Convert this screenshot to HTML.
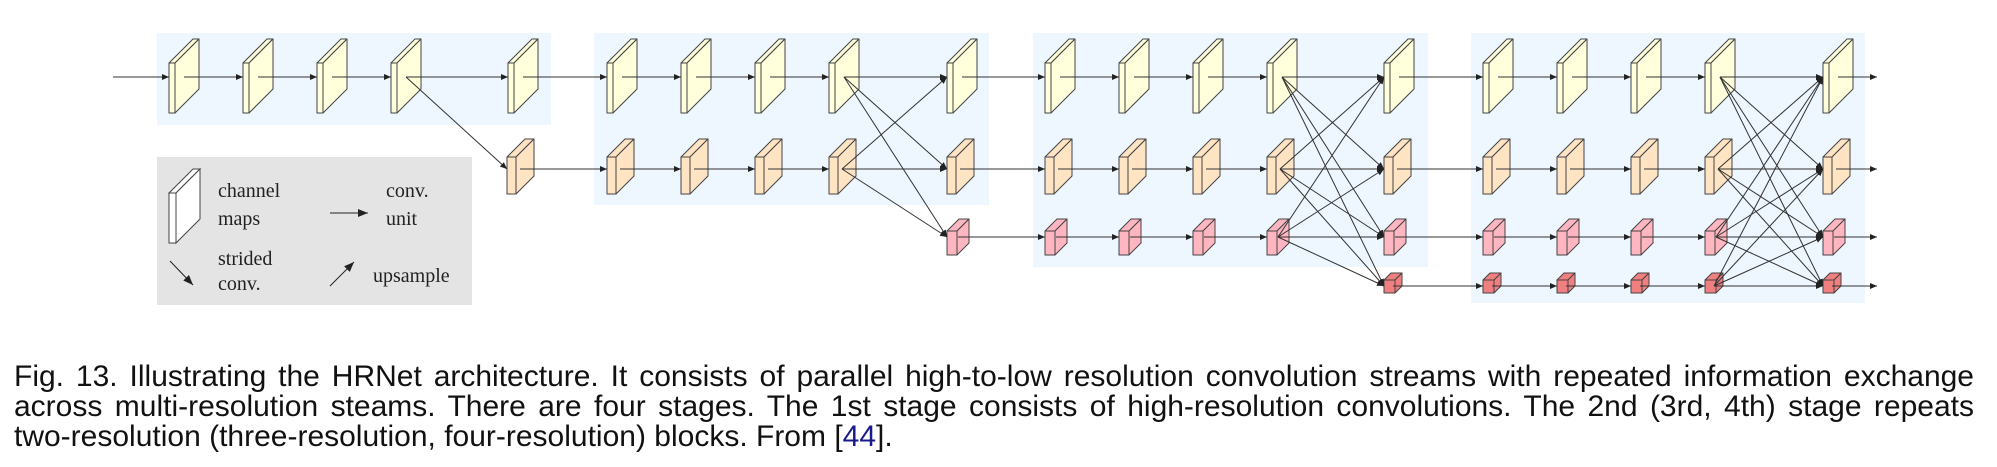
<!DOCTYPE html>
<html><head><meta charset="utf-8"><style>
html,body{margin:0;padding:0;background:#fff;}
body{width:1997px;height:467px;position:relative;overflow:hidden;}
svg{position:absolute;left:0;top:0;}
.cap{position:absolute;left:14px;width:1960px;font-family:"Liberation Sans",sans-serif;font-size:30px;line-height:29px;color:#111;white-space:nowrap;}
.j{text-align:justify;text-align-last:justify;white-space:normal;}
</style></head><body>
<svg width="1997" height="467" viewBox="0 0 1997 467" xmlns="http://www.w3.org/2000/svg">
<defs>
<marker id="a" markerWidth="7" markerHeight="6" refX="7" refY="3" orient="auto" markerUnits="userSpaceOnUse"><path d="M0,0 L7,3 L0,6 z" fill="#222"/></marker>
<marker id="b" markerWidth="10" markerHeight="8" refX="10" refY="4" orient="auto" markerUnits="userSpaceOnUse"><path d="M0,0 L10,4 L0,8 z" fill="#222"/></marker>
<g id="m1" stroke="#444" stroke-width="1" stroke-linejoin="round" fill="#ffffdc"><rect x="0" y="0" width="6" height="50"/><polygon points="0,0 24,-24 30,-24 6,0"/><polygon points="6,0 30,-24 30,26 6,50"/></g>
<g id="m2" stroke="#444" stroke-width="1" stroke-linejoin="round" fill="#ffe4c4"><rect x="0" y="0" width="9" height="37"/><polygon points="0,0 18,-18 27,-18 9,0"/><polygon points="9,0 27,-18 27,19 9,37"/></g>
<g id="m3" stroke="#444" stroke-width="1" stroke-linejoin="round" fill="#ffb6c1"><rect x="0" y="0" width="10" height="24"/><polygon points="0,0 12,-12 22,-12 10,0"/><polygon points="10,0 22,-12 22,12 10,24"/></g>
<g id="m4" stroke="#444" stroke-width="1" stroke-linejoin="round" fill="#f08080"><rect x="0" y="0" width="11" height="13"/><polygon points="0,0 7,-7 18,-7 11,0"/><polygon points="11,0 18,-7 18,6 11,13"/></g>
</defs>
<g fill="#eef6ff">
<rect x="157" y="33" width="394" height="92"/>
<rect x="594" y="33" width="395" height="172"/>
<rect x="1033" y="33" width="395" height="234"/>
<rect x="1471" y="33" width="394" height="270"/>
</g>
<rect x="157" y="157" width="315" height="148" fill="#e4e4e4"/>
<g stroke="#444" fill="#fff"><rect x="169" y="193" width="7" height="50"/><polygon points="169,193 193,169 200,169 176,193"/><polygon points="176,193 200,169 200,219 176,243"/></g>
<g stroke="#222" stroke-width="1" fill="none">
<line x1="330" y1="213" x2="368" y2="213" marker-end="url(#b)"/>
<line x1="170" y1="261" x2="193" y2="285" marker-end="url(#b)"/>
<line x1="330" y1="286" x2="354" y2="262" marker-end="url(#b)"/>
</g>
<g font-family="Liberation Serif, serif" font-size="20" fill="#222">
<text x="218" y="197">channel</text><text x="218" y="225">maps</text>
<text x="386" y="197">conv.</text><text x="386" y="225">unit</text>
<text x="218" y="265">strided</text><text x="218" y="290">conv.</text>
<text x="373" y="282">upsample</text>
</g>
<g>
<use href="#m1" x="169" y="63"/><use href="#m1" x="243" y="63"/><use href="#m1" x="317" y="63"/><use href="#m1" x="391" y="63"/><use href="#m1" x="508" y="63"/>
<use href="#m2" x="507" y="157"/>
<use href="#m1" x="607" y="63"/><use href="#m1" x="681" y="63"/><use href="#m1" x="755" y="63"/><use href="#m1" x="829" y="63"/><use href="#m1" x="947" y="63"/>
<use href="#m2" x="607" y="157"/><use href="#m2" x="681" y="157"/><use href="#m2" x="755" y="157"/><use href="#m2" x="829" y="157"/><use href="#m2" x="947" y="157"/>
<use href="#m3" x="947" y="231"/>
<use href="#m1" x="1045" y="63"/><use href="#m1" x="1119" y="63"/><use href="#m1" x="1193" y="63"/><use href="#m1" x="1267" y="63"/><use href="#m1" x="1384" y="63"/>
<use href="#m2" x="1045" y="157"/><use href="#m2" x="1119" y="157"/><use href="#m2" x="1193" y="157"/><use href="#m2" x="1267" y="157"/><use href="#m2" x="1384" y="157"/>
<use href="#m3" x="1045" y="231"/><use href="#m3" x="1119" y="231"/><use href="#m3" x="1193" y="231"/><use href="#m3" x="1267" y="231"/><use href="#m3" x="1384" y="231"/>
<use href="#m4" x="1384" y="280"/>
<use href="#m1" x="1483" y="63"/><use href="#m1" x="1557" y="63"/><use href="#m1" x="1631" y="63"/><use href="#m1" x="1705" y="63"/><use href="#m1" x="1823" y="63"/>
<use href="#m2" x="1483" y="157"/><use href="#m2" x="1557" y="157"/><use href="#m2" x="1631" y="157"/><use href="#m2" x="1705" y="157"/><use href="#m2" x="1823" y="157"/>
<use href="#m3" x="1483" y="231"/><use href="#m3" x="1557" y="231"/><use href="#m3" x="1631" y="231"/><use href="#m3" x="1705" y="231"/><use href="#m3" x="1823" y="231"/>
<use href="#m4" x="1483" y="280"/><use href="#m4" x="1557" y="280"/><use href="#m4" x="1631" y="280"/><use href="#m4" x="1705" y="280"/><use href="#m4" x="1823" y="280"/>
</g>
<g stroke="#333" stroke-width="1" fill="none" marker-end="url(#a)">
<line x1="113" y1="77" x2="169" y2="77"/><line x1="184" y1="77" x2="243" y2="77"/><line x1="258" y1="77" x2="317" y2="77"/><line x1="332" y1="77" x2="391" y2="77"/><line x1="406" y1="77" x2="508" y2="77"/>
<line x1="406" y1="77" x2="507" y2="169"/>
<line x1="523" y1="77" x2="607" y2="77"/><line x1="520" y1="169" x2="607" y2="169"/>
<line x1="622" y1="77" x2="681" y2="77"/><line x1="696" y1="77" x2="755" y2="77"/><line x1="770" y1="77" x2="829" y2="77"/>
<line x1="620" y1="169" x2="681" y2="169"/><line x1="694" y1="169" x2="755" y2="169"/><line x1="768" y1="169" x2="829" y2="169"/>
<line x1="844" y1="77" x2="947" y2="77"/><line x1="844" y1="77" x2="947" y2="169"/><line x1="844" y1="77" x2="947" y2="237"/>
<line x1="842" y1="169" x2="947" y2="77"/><line x1="842" y1="169" x2="947" y2="169"/><line x1="842" y1="169" x2="947" y2="237"/>
<line x1="962" y1="77" x2="1045" y2="77"/><line x1="960" y1="169" x2="1045" y2="169"/><line x1="958" y1="237" x2="1045" y2="237"/>
<line x1="1060" y1="77" x2="1119" y2="77"/><line x1="1134" y1="77" x2="1193" y2="77"/><line x1="1208" y1="77" x2="1267" y2="77"/>
<line x1="1058" y1="169" x2="1119" y2="169"/><line x1="1132" y1="169" x2="1193" y2="169"/><line x1="1206" y1="169" x2="1267" y2="169"/>
<line x1="1056" y1="237" x2="1119" y2="237"/><line x1="1130" y1="237" x2="1193" y2="237"/><line x1="1204" y1="237" x2="1267" y2="237"/>
<line x1="1282" y1="77" x2="1384" y2="77"/><line x1="1282" y1="77" x2="1384" y2="169"/><line x1="1282" y1="77" x2="1384" y2="237"/><line x1="1282" y1="77" x2="1384" y2="286"/>
<line x1="1280" y1="169" x2="1384" y2="77"/><line x1="1280" y1="169" x2="1384" y2="169"/><line x1="1280" y1="169" x2="1384" y2="237"/><line x1="1280" y1="169" x2="1384" y2="286"/>
<line x1="1278" y1="237" x2="1384" y2="77"/><line x1="1278" y1="237" x2="1384" y2="169"/><line x1="1278" y1="237" x2="1384" y2="237"/><line x1="1278" y1="237" x2="1384" y2="286"/>
<line x1="1399" y1="77" x2="1483" y2="77"/><line x1="1397" y1="169" x2="1483" y2="169"/><line x1="1395" y1="237" x2="1483" y2="237"/><line x1="1393" y1="286" x2="1483" y2="286"/>
<line x1="1498" y1="77" x2="1557" y2="77"/><line x1="1572" y1="77" x2="1631" y2="77"/><line x1="1646" y1="77" x2="1705" y2="77"/>
<line x1="1496" y1="169" x2="1557" y2="169"/><line x1="1570" y1="169" x2="1631" y2="169"/><line x1="1644" y1="169" x2="1705" y2="169"/>
<line x1="1494" y1="237" x2="1557" y2="237"/><line x1="1568" y1="237" x2="1631" y2="237"/><line x1="1642" y1="237" x2="1705" y2="237"/>
<line x1="1492" y1="286" x2="1557" y2="286"/><line x1="1566" y1="286" x2="1631" y2="286"/><line x1="1640" y1="286" x2="1705" y2="286"/>
<line x1="1720" y1="77" x2="1823" y2="77"/><line x1="1720" y1="77" x2="1823" y2="169"/><line x1="1720" y1="77" x2="1823" y2="237"/><line x1="1720" y1="77" x2="1823" y2="286"/>
<line x1="1718" y1="169" x2="1823" y2="77"/><line x1="1718" y1="169" x2="1823" y2="169"/><line x1="1718" y1="169" x2="1823" y2="237"/><line x1="1718" y1="169" x2="1823" y2="286"/>
<line x1="1716" y1="237" x2="1823" y2="77"/><line x1="1716" y1="237" x2="1823" y2="169"/><line x1="1716" y1="237" x2="1823" y2="237"/><line x1="1716" y1="237" x2="1823" y2="286"/>
<line x1="1714" y1="286" x2="1823" y2="77"/><line x1="1714" y1="286" x2="1823" y2="169"/><line x1="1714" y1="286" x2="1823" y2="237"/><line x1="1714" y1="286" x2="1823" y2="286"/>
<line x1="1838" y1="77" x2="1877" y2="77"/><line x1="1836" y1="169" x2="1877" y2="169"/><line x1="1834" y1="237" x2="1877" y2="237"/><line x1="1832" y1="286" x2="1877" y2="286"/>
</g>
</svg>
<div class="cap j" style="top:362px;">Fig. 13. Illustrating the HRNet architecture. It consists of parallel high-to-low resolution convolution streams with repeated information exchange</div>
<div class="cap j" style="top:392px;">across multi-resolution steams. There are four stages. The 1st stage consists of high-resolution convolutions. The 2nd (3rd, 4th) stage repeats</div>
<div class="cap" style="top:422px;">two-resolution (three-resolution, four-resolution) blocks. From [<span style="color:#1a1a8c">44</span>].</div>
</body></html>
